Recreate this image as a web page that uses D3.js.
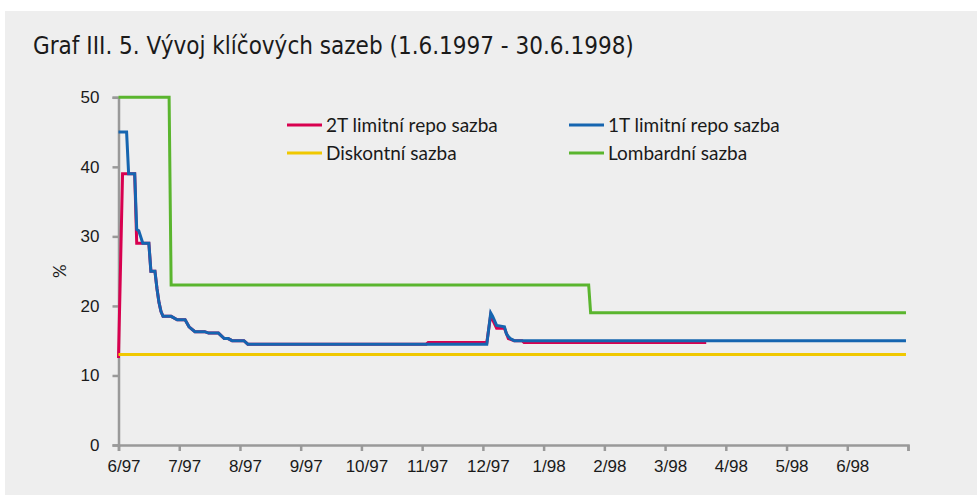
<!DOCTYPE html>
<html>
<head>
<meta charset="utf-8">
<script src="https://cdn.jsdelivr.net/npm/d3@7"></script>
<style>
  body { margin: 0; background: #ffffff; }
  svg { display: block; font-family: Lato, "Open Sans", sans-serif; }
</style>
</head>
<body>
<svg id="chart" width="977" height="495"></svg>
<script>
////////////////////////////////////////////////////////////////////////////////
///////////////////////////////////////////////////////////////////////// Data
////////////////////////////////////////////////////////////////////////////////

const titleText = "Graf III. 5. Vývoj klíčových sazeb (1.6.1997 - 30.6.1998)";
const xLabels = ["6/97", "7/97", "8/97", "9/97", "10/97", "11/97", "12/97",
                 "1/98", "2/98", "3/98", "4/98", "5/98", "6/98"];
const yTicks = [0, 10, 20, 30, 40, 50];
const seriesNames = ["2T limitní repo sazba", "1T limitní repo sazba",
                     "Diskontní sazba", "Lombardní sazba"];

// 2T limitní repo sazba
const repo2T = [
  ["1997-06-01", 12.5], ["1997-06-03", 39], ["1997-06-09", 39], ["1997-06-10", 29],
  ["1997-06-16", 29], ["1997-06-17", 25], ["1997-06-19", 25], ["1997-06-20", 22.5],
  ["1997-06-21", 20.5], ["1997-06-22", 19.2], ["1997-06-23", 18.5], ["1997-06-27", 18.5],
  ["1997-06-30", 18], ["1997-07-04", 18], ["1997-07-06", 17], ["1997-07-09", 16.3],
  ["1997-07-14", 16.3], ["1997-07-16", 16.1], ["1997-07-21", 16.1], ["1997-07-24", 15.3],
  ["1997-07-26", 15.3], ["1997-07-28", 15], ["1997-08-03", 15], ["1997-08-05", 14.5],
  ["1997-11-03", 14.5], ["1997-11-04", 14.75], ["1997-12-03", 14.75], ["1997-12-05", 18.7],
  ["1997-12-06", 18], ["1997-12-08", 16.8], ["1997-12-12", 16.8], ["1997-12-14", 15.3],
  ["1997-12-17", 15], ["1997-12-21", 15], ["1997-12-22", 14.75], ["1998-03-22", 14.75]
];

// 1T limitní repo sazba
const repo1T = [
  ["1997-06-01", 45], ["1997-06-05", 45], ["1997-06-06", 39], ["1997-06-09", 39],
  ["1997-06-10", 31], ["1997-06-11", 30.8], ["1997-06-13", 29], ["1997-06-16", 29],
  ["1997-06-17", 25], ["1997-06-19", 25], ["1997-06-20", 22.5], ["1997-06-21", 20.5],
  ["1997-06-22", 19.2], ["1997-06-23", 18.5], ["1997-06-27", 18.5], ["1997-06-30", 18],
  ["1997-07-04", 18], ["1997-07-06", 17], ["1997-07-09", 16.3], ["1997-07-14", 16.3],
  ["1997-07-16", 16.1], ["1997-07-21", 16.1], ["1997-07-24", 15.3], ["1997-07-26", 15.3],
  ["1997-07-28", 15], ["1997-08-03", 15], ["1997-08-05", 14.5], ["1997-12-03", 14.5],
  ["1997-12-05", 19], ["1997-12-06", 18.5], ["1997-12-08", 17.2], ["1997-12-12", 17],
  ["1997-12-13", 16], ["1997-12-14", 15.6], ["1997-12-15", 15.3], ["1997-12-17", 15],
  ["1998-06-30", 15]
];

// Diskontní sazba
const discount = [["1997-06-01", 13], ["1998-06-30", 13]];

// Lombardní sazba
const lombard = [
  ["1997-06-01", 50], ["1997-06-26", 50], ["1997-06-27", 23],
  ["1998-01-24", 23], ["1998-01-25", 19], ["1998-06-30", 19]
];

const colors = ["#d8004f", "#1565b0", "#f0c800", "#5ab52e"];

////////////////////////////////////////////////////////////////////////////////
//////////////////////////////////////////////////////////////////////// Chart
////////////////////////////////////////////////////////////////////////////////

const svg = d3.select("#chart");
const parseDate = d3.timeParse("%Y-%m-%d");

// months are drawn at equal width, so turn a date into a month position
function monthPos(s) {
  const d = parseDate(s);
  const start = d3.timeMonth.floor(d);
  const days = d3.timeDay.count(start, d3.timeMonth.offset(start, 1));
  return (d.getFullYear() - 1997) * 12 + d.getMonth() - 5 + (d.getDate() - 1) / days;
}

// background panel
svg.append("rect")
     .attr("x", 5)
     .attr("y", 11)
     .attr("width", 972)
     .attr("height", 484)
     .attr("fill", "#eeeeee");

// title
svg.append("text")
     .attr("x", 33)
     .attr("y", 54)
     .style("font-family", "'DejaVu Sans Condensed', sans-serif")
     .style("font-size", "24px")
     .attr("fill", "#1a1a1a")
     .text(titleText);

const xScale = d3.scaleLinear()
                 .domain([0, 13])
                 .range([118.5, 908]);
const yScale = d3.scaleLinear()
                 .domain([0, 50])
                 .range([445, 97.3]);

// X-axis
const xAxis = d3.axisBottom(xScale)
                .tickValues(d3.range(14))
                .tickSize(6)
                .tickPadding(9)
                .tickFormat(function(i) { return xLabels[i] || ""; });
const gx = svg.append("g")
                .attr("transform", `translate(0, ${yScale(0)})`)
                .call(xAxis);
gx.selectAll("text")
    .attr("dx", 5)
    .style("font-size", "17px")
    .attr("fill", "#1a1a1a");

// Y-axis
const yAxis = d3.axisLeft(yScale)
                .tickValues(yTicks)
                .tickSize(6)
                .tickPadding(13);
const gy = svg.append("g")
                .attr("transform", `translate(${xScale(0)}, 0)`)
                .call(yAxis);
gy.selectAll("text")
    .style("font-size", "17px")
    .attr("fill", "#1a1a1a");

svg.selectAll(".domain, .tick line")
     .attr("stroke", "#999999")
     .attr("stroke-width", 2.5);

// Y-axis label
svg.append("text")
     .attr("transform", `translate(66, ${yScale(25)}) rotate(-90)`)
     .style("text-anchor", "middle")
     .style("font-size", "17px")
     .attr("fill", "#1a1a1a")
     .text("%");

// Lines
const line = d3.line()
               .x(function(d) { return xScale(monthPos(d[0])); })
               .y(function(d) { return yScale(d[1]); });

const allSeries = [repo2T, repo1T, discount, lombard];
svg.selectAll(".line")
     .data(allSeries)
     .join("path")
       .attr("class", "line")
       .attr("fill", "none")
       .attr("stroke-width", 3)
       .attr("stroke-linejoin", "miter")
       .attr("stroke", function(d, i) { return colors[i]; })
       .attr("d", line);

// Legend
const legendCols = [287, 569];
const legendRows = [125, 153];
const legend = svg.selectAll(".legend")
                    .data(seriesNames)
                    .join("g")
                      .attr("class", "legend")
                      .attr("transform", function(d, i) {
                        return `translate(${legendCols[i % 2]}, ${legendRows[Math.floor(i / 2)]})`;
                      });
legend.append("line")
        .attr("x1", 0)
        .attr("x2", 35)
        .attr("stroke-width", 3)
        .attr("stroke", function(d, i) { return colors[i]; });
legend.append("text")
        .attr("x", 39)
        .attr("dy", "0.35em")
        .style("font-size", "19px")
        .attr("fill", "#1a1a1a")
        .text(function(d) { return d; });
</script>
</body>
</html>
